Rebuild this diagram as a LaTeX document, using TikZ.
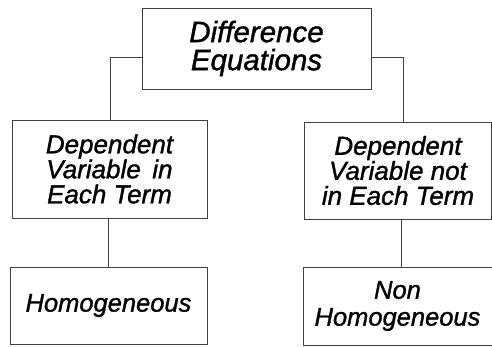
\documentclass[tikz,border=0pt]{standalone}
\usepackage{fontspec}
\setmainfont{Liberation Sans}[ItalicFeatures={FakeBold=1.2}]
\usetikzlibrary{calc}
\begin{document}
\begin{tikzpicture}[x=1pt,y=1pt,
  box/.style={draw=black!75, line width=0.6pt, rectangle, inner sep=0pt, align=center,
    font=\fontsize{26}{25}\selectfont\itshape},
  link/.style={draw=black!75, line width=0.6pt}]
\useasboundingbox (0,0) rectangle (492,346);
\node[box, minimum width=229, minimum height=81, font=\fontsize{29.5}{28}\selectfont\itshape] (top) at (256.5,297.5) {Difference\\Equations};
\node[box, minimum width=195, minimum height=98] (l) at (109.5,177) {Dependent\\Variable\, in\\Each Term};
\node[box, minimum width=187, minimum height=97] (r) at (398,175.5) {Dependent\\Variable not\\in Each Term};
\node[box, minimum width=197, minimum height=77, font=\fontsize{25.5}{27}\selectfont\itshape] (bl) at (108.5,40.5) {Homogeneous};
\node[box, minimum width=189, minimum height=78, font=\fontsize{25.5}{27}\selectfont\itshape] (br) at (397.5,40) {Non\\Homogeneous};
\coordinate (tl) at ($(top.west)+(0,-8.5)$);
\coordinate (tr) at ($(top.east)+(0,-8.5)$);
\coordinate (lj) at ($(l.north)+(0.5,0)$);
\coordinate (rj) at ($(r.north)+(5,0)$);
\draw[link] (tl) -| (lj);
\draw[link] (tr) -| (rj);
\draw[link] ($(l.south)+(-1.5,0)$) -- ($(bl.north)+(-0.5,0)$);
\draw[link] ($(r.south)+(3,0)$) -- ($(br.north)+(3.5,0)$);
\end{tikzpicture}
\end{document}
